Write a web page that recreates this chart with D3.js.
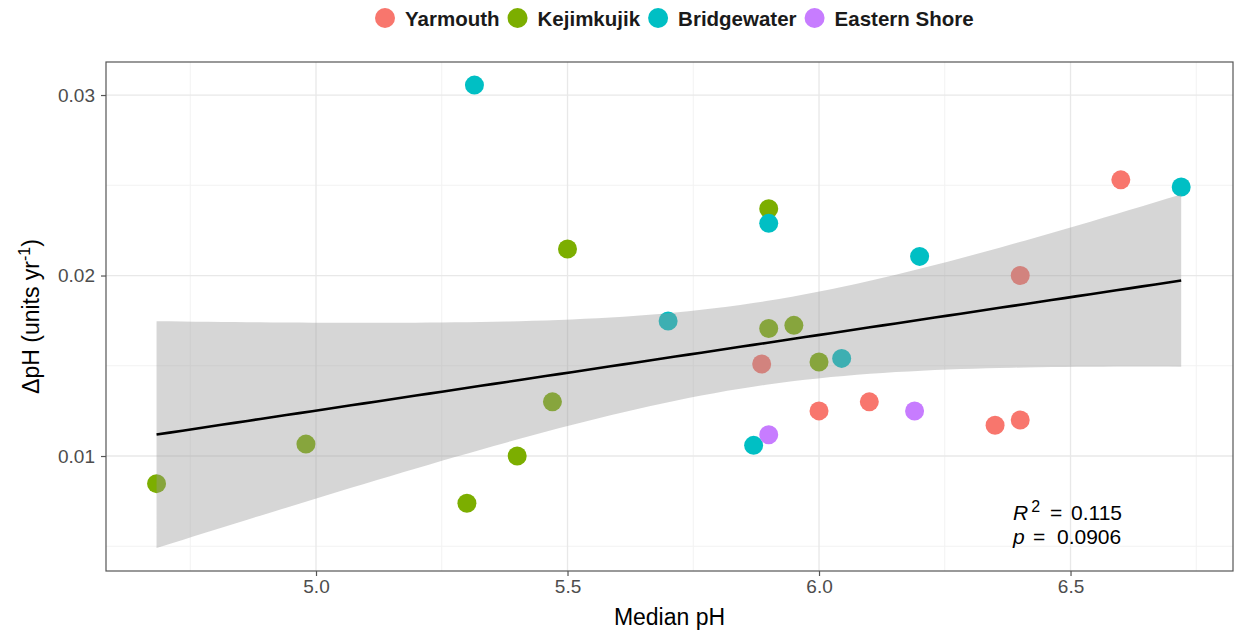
<!DOCTYPE html>
<html>
<head>
<meta charset="utf-8">
<style>
  body { margin: 0; background: #fff; }
  svg { display: block; font-family: "Liberation Sans", Arial, sans-serif; }
</style>
</head>
<body>
<script src="https://cdn.jsdelivr.net/npm/d3@7"></script>
<script>
// data
var regions = ["Yarmouth", "Kejimkujik", "Bridgewater", "Eastern Shore"];
var regionColors = ["#F8766D", "#7CAE00", "#00BFC4", "#C77CFF"];

var yarmouthPH    = [5.886, 6.00, 6.10, 6.60, 6.40, 6.35, 6.40];
var yarmouthRate  = [0.0151, 0.0125, 0.0130, 0.0253, 0.0200, 0.0117, 0.0120];
var kejimPH       = [4.683, 4.98, 5.40, 5.30, 5.47, 5.50, 5.90, 5.90, 5.95, 6.00];
var kejimRate     = [0.00847, 0.01066, 0.0100, 0.00738, 0.0130, 0.02147, 0.0237, 0.01707, 0.01724, 0.01521];
var bridgePH      = [5.315, 5.90, 6.20, 5.70, 6.045, 5.87, 6.72];
var bridgeRate    = [0.03055, 0.02289, 0.02106, 0.01748, 0.01541, 0.01059, 0.0249];
var easternPH     = [5.90, 6.19];
var easternRate   = [0.01118, 0.01249];

var xTicks = [5.0, 5.5, 6.0, 6.5];
var xMinor = [4.75, 5.25, 5.75, 6.25, 6.75];
var yTicks = [0.01, 0.02, 0.03];
var yMinor = [0.005, 0.015, 0.025];

var statLines = ["0.115", "0.0906"];

var phs = [yarmouthPH, kejimPH, bridgePH, easternPH];
var rates = [yarmouthRate, kejimRate, bridgeRate, easternRate];
var points = [];
regions.forEach(function(r, k) {
  phs[k].forEach(function(v, i) { points.push({region: r, k: k, x: v, y: rates[k][i]}); });
});

var width = 1235, height = 634;
var margin = {top: 62, right: 2, bottom: 63, left: 106};

var svg = d3.select("body").append("svg")
  .attr("width", width)
  .attr("height", height);

var x = d3.scaleLinear().domain([4.5825, 6.823]).range([margin.left, width - margin.right]);
var y = d3.scaleLinear().domain([0.00363, 0.03183]).range([height - margin.bottom, margin.top]);

// grid
var grid = svg.append("g");
grid.selectAll(".xmin").data(xMinor).enter().append("line")
  .attr("x1", x).attr("x2", x).attr("y1", y.range()[0]).attr("y2", y.range()[1])
  .attr("stroke", "#f2f2f2").attr("stroke-width", 1);
grid.selectAll(".ymin").data(yMinor).enter().append("line")
  .attr("y1", y).attr("y2", y).attr("x1", x.range()[0]).attr("x2", x.range()[1])
  .attr("stroke", "#f2f2f2").attr("stroke-width", 1);
grid.selectAll(".xmaj").data(xTicks).enter().append("line")
  .attr("x1", x).attr("x2", x).attr("y1", y.range()[0]).attr("y2", y.range()[1])
  .attr("stroke", "#e8e8e8").attr("stroke-width", 1.3);
grid.selectAll(".ymaj").data(yTicks).enter().append("line")
  .attr("y1", y).attr("y2", y).attr("x1", x.range()[0]).attr("x2", x.range()[1])
  .attr("stroke", "#e8e8e8").attr("stroke-width", 1.3);

// points
svg.append("g").selectAll("circle").data(points).enter().append("circle")
  .attr("cx", function(d) { return x(d.x); })
  .attr("cy", function(d) { return y(d.y); })
  .attr("r", 9.5)
  .attr("fill", function(d) { return regionColors[d.k]; });

// linear fit + 95% confidence band (like geom_smooth(method = "lm"))
var n = points.length;
var mx = d3.mean(points, function(d) { return d.x; });
var my = d3.mean(points, function(d) { return d.y; });
var sxx = d3.sum(points, function(d) { return (d.x - mx) * (d.x - mx); });
var sxy = d3.sum(points, function(d) { return (d.x - mx) * (d.y - my); });
var slope = sxy / sxx;
var icpt = my - slope * mx;
var sse = d3.sum(points, function(d) { var e = d.y - (icpt + slope * d.x); return e * e; });
var s = Math.sqrt(sse / (n - 2));
var tq = 2.064; // t quantile, 0.975, df = 24
var xlo = d3.min(points, function(d) { return d.x; });
var xhi = d3.max(points, function(d) { return d.x; });
var fit = d3.range(80).map(function(i) {
  var xv = xlo + (xhi - xlo) * i / 79;
  var yv = icpt + slope * xv;
  var se = s * Math.sqrt(1 / n + (xv - mx) * (xv - mx) / sxx);
  return {x: xv, y: yv, lo: yv - tq * se, hi: yv + tq * se};
});

svg.append("path").datum(fit)
  .attr("fill", "#999999").attr("fill-opacity", 0.4)
  .attr("d", d3.area()
    .x(function(d) { return x(d.x); })
    .y0(function(d) { return y(d.lo); })
    .y1(function(d) { return y(d.hi); }));
svg.append("path").datum(fit)
  .attr("fill", "none").attr("stroke", "#000").attr("stroke-width", 2.6)
  .attr("d", d3.line()
    .x(function(d) { return x(d.x); })
    .y(function(d) { return y(d.y); }));

// panel border
svg.append("rect")
  .attr("x", x.range()[0]).attr("y", y.range()[1])
  .attr("width", x.range()[1] - x.range()[0])
  .attr("height", y.range()[0] - y.range()[1])
  .attr("fill", "none").attr("stroke", "#555").attr("stroke-width", 1.2);

// axes
var xAxis = svg.append("g")
  .attr("transform", "translate(0," + y.range()[0] + ")")
  .call(d3.axisBottom(x).tickValues(xTicks).tickFormat(d3.format(".1f")).tickSize(5).tickPadding(4));
var yAxis = svg.append("g")
  .attr("transform", "translate(" + x.range()[0] + ",0)")
  .call(d3.axisLeft(y).tickValues(yTicks).tickFormat(d3.format(".2f")).tickSize(5).tickPadding(6));
[xAxis, yAxis].forEach(function(a) {
  a.select(".domain").remove();
  a.selectAll(".tick line").attr("stroke", "#555").attr("stroke-width", 1.2);
  a.selectAll(".tick text").attr("fill", "#4d4d4d").style("font-size", "19px")
    .style("font-family", "Liberation Sans, Arial, sans-serif");
});

// axis titles
svg.append("text")
  .attr("x", (x.range()[0] + x.range()[1]) / 2).attr("y", 625)
  .attr("text-anchor", "middle").style("font-size", "23px").attr("fill", "#000")
  .text("Median pH");

var yt = svg.append("text")
  .attr("transform", "translate(39," + ((y.range()[0] + y.range()[1]) / 2) + ") rotate(-90)")
  .attr("text-anchor", "middle").style("font-size", "23px").attr("fill", "#000");
yt.append("tspan").text("\u0394pH (units yr");
yt.append("tspan").attr("dy", -9).style("font-size", "16px").text("-1");
yt.append("tspan").attr("dy", 9).text(")");

// stats annotation
var t1 = svg.append("text").attr("x", 1013).attr("y", 520)
  .style("font-size", "21px").attr("fill", "#000");
t1.append("tspan").style("font-style", "italic").text("R");
t1.append("tspan").attr("dy", -8).attr("dx", 3).style("font-size", "16px").text("2");
t1.append("tspan").attr("dy", 8).attr("x", 1050).text("=");
t1.append("tspan").attr("x", 1071).text(statLines[0]);
var t2 = svg.append("text").attr("x", 1013).attr("y", 544)
  .style("font-size", "21px").attr("fill", "#000");
t2.append("tspan").style("font-style", "italic").text("p");
t2.append("tspan").attr("x", 1033).text("=");
t2.append("tspan").attr("x", 1057).text(statLines[1]);

// legend
var lg = svg.append("g").attr("transform", "translate(0,18)");
var cx = 385;
regions.forEach(function(r, k) {
  lg.append("circle").attr("cx", cx).attr("cy", 0).attr("r", 10).attr("fill", regionColors[k]);
  var t = lg.append("text").attr("x", cx + 20).attr("y", 7.5)
    .style("font-size", "20.5px").style("font-weight", "bold").attr("fill", "#1a1a1a").text(r);
  cx += 20 + t.node().getComputedTextLength() + 18;
});
</script>
</body>
</html>
